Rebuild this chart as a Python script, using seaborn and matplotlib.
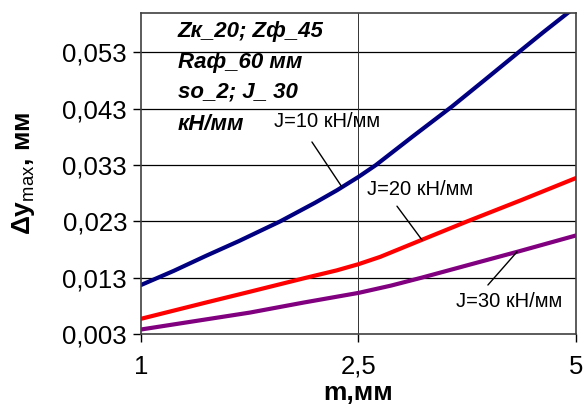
import pandas as pd
import matplotlib
matplotlib.use("Agg")
import matplotlib.pyplot as plt
import seaborn as sns

# positions along the category axis (0 -> m=1, 1 -> m=2.5, 2 -> m=5)
m_labels = ["1", "2,5", "5"]

x_j10 = [0, 0.15, 0.3, 0.45, 0.64, 0.8, 0.9, 1.0, 1.08, 1.25, 1.43, 1.58, 1.735, 1.85, 1.965, 2.0]
dy_j10 = [0.0117, 0.0142, 0.0169, 0.0195, 0.0230, 0.0263, 0.0285, 0.0309, 0.0330,
          0.0381, 0.0434, 0.0481, 0.0530, 0.0566, 0.0601, 0.0611]

x_j20 = [0, 0.3, 0.5, 0.76, 0.9, 1.0, 1.1, 1.29, 1.5, 1.75, 2.0]
dy_j20 = [0.0057, 0.0086, 0.0105, 0.0130, 0.0143, 0.0154, 0.0167, 0.0197, 0.0230, 0.0268, 0.0307]

x_j30 = [0, 0.25, 0.5, 0.75, 1.0, 1.15, 1.29, 1.5, 1.73, 2.0]
dy_j30 = [0.0038, 0.0053, 0.0068, 0.0086, 0.0103, 0.0116, 0.0130, 0.0152, 0.0176, 0.0205]

series = ["J=10", "J=20", "J=30"]
colors = ["#000080", "#FF0000", "#800080"]

yticks = [0.003, 0.013, 0.023, 0.033, 0.043, 0.053]

note_lines = ["Zк_20; Zф_45", "Raф_60 мм", "so_2; J_ 30", "кН/мм"]

df = pd.concat([
    pd.DataFrame({"x": xs, "dy": vals, "J": name})
    for name, xs, vals in zip(series, [x_j10, x_j20, x_j30], [dy_j10, dy_j20, dy_j30])
])

sns.set_style("white")
plt.rcParams["font.family"] = ["Liberation Sans", "DejaVu Sans"]
plt.rcParams["mathtext.fontset"] = "custom"
plt.rcParams["mathtext.rm"] = "Liberation Sans"
plt.rcParams["mathtext.bf"] = "Liberation Sans:bold"
plt.rcParams["text.color"] = "black"
plt.rcParams["axes.labelcolor"] = "black"
plt.rcParams["xtick.color"] = "black"
plt.rcParams["ytick.color"] = "black"

fig = plt.figure(figsize=(5.84, 4.12), dpi=100)
ax = fig.add_axes([0.2414, 0.1893, 0.7449, 0.7791])

sns.lineplot(data=df, x="x", y="dy", hue="J", palette=colors, linewidth=3,
             legend=False, ax=ax, sort=True)

ax.set_xlim(0, 2)
ax.set_ylim(0.003, 0.060)
ax.set_xticks([0, 1, 2])
ax.set_xticklabels(m_labels)
ax.set_yticks(yticks)
ax.set_yticklabels([f"{v:.3f}".replace(".", ",") for v in yticks])
ax.tick_params(axis="both", labelsize=18.5, direction="out", length=6, width=1,
               color="black", labelcolor="black", pad=4, bottom=True, left=True)
ax.tick_params(axis="x", pad=9)

for v in yticks[1:]:
    ax.axhline(v, color="black", linewidth=0.9, zorder=0)
ax.axvline(1, color="#333333", linewidth=0.7, zorder=0)
for s in ax.spines.values():
    s.set_color("#404040")
    s.set_linewidth(1.2)

ax.set_xlabel("m,мм", fontsize=19, fontweight="bold")
ax.xaxis.set_label_coords(0.5, -0.145)
ax.set_ylabel(r"$\mathbf{\Delta y}_{\mathrm{max}}$, мм", fontsize=19,
              fontweight="bold")
ax.yaxis.set_label_coords(-0.24, 0.5)

note_y = [0.05575, 0.05025, 0.04492, 0.03923]
for line, yv in zip(note_lines, note_y):
    ax.text(0.17, yv, line, fontsize=16, fontweight="bold", style="italic",
            va="baseline", ha="left", color="black")

labels = [("J=10 кН/мм", (0.857, 0.0407), (0.786, 0.0371), (0.924, 0.0291)),
          ("J=20 кН/мм", (1.285, 0.0286), (1.177, 0.0257), (1.292, 0.0197)),
          ("J=30 кН/мм", (1.692, 0.0087), (1.595, 0.0117), (1.729, 0.0176))]
for txt, tpos, start, end in labels:
    ax.text(tpos[0], tpos[1], txt, fontsize=14.5, ha="center", va="center",
            color="black")
    ax.annotate("", xy=end, xytext=start,
                arrowprops=dict(arrowstyle="-", color="black", lw=1,
                                shrinkA=0, shrinkB=0))

fig.savefig("out.png", dpi=100)
